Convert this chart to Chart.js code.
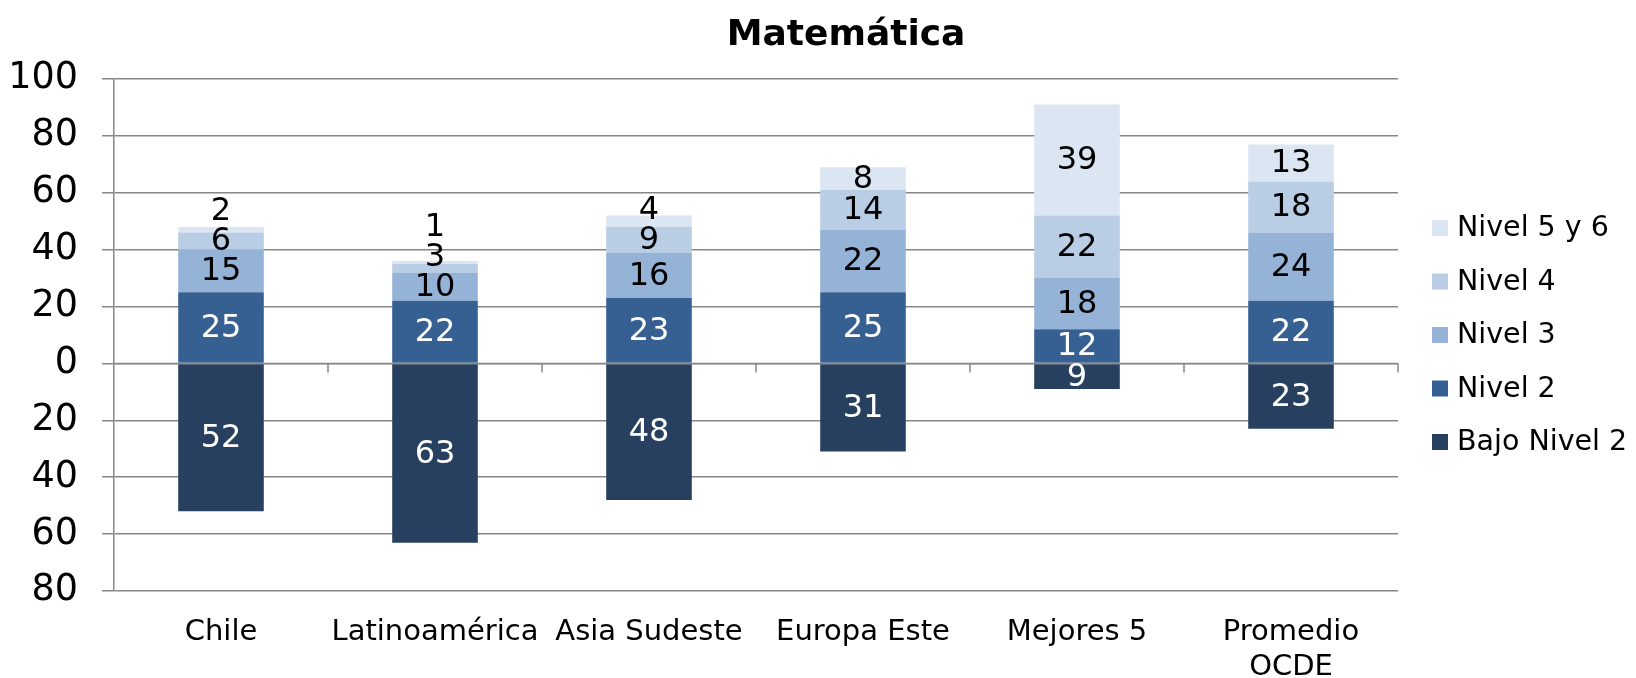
<!DOCTYPE html>
<html>
<head>
<meta charset="utf-8">
<script src="https://cdn.jsdelivr.net/npm/chart.js@4/dist/chart.umd.min.js"></script>
<style>
  html, body { margin: 0; padding: 0; background: #fff; }
  #wrap { width: 1636px; height: 678px; }
</style>
</head>
<body>
<div id="wrap"><canvas id="chart" width="1636" height="678"></canvas></div>
<script>
const CATEGORIES = ["Chile", "Latinoamérica", "Asia Sudeste", "Europa Este", "Mejores 5", ["Promedio", "OCDE"]];
const BAJO_NIVEL_2 = [-52, -63, -48, -31, -9, -23];
const NIVEL_2 = [25, 22, 23, 25, 12, 22];
const NIVEL_3 = [15, 10, 16, 22, 18, 24];
const NIVEL_4 = [6, 3, 9, 14, 22, 18];
const NIVEL_5_Y_6 = [2, 1, 4, 8, 39, 13];
const Y_TICKS = [-80, -60, -40, -20, 0, 20, 40, 60, 80, 100];

const FONT = "'DejaVu Sans', Verdana, sans-serif";
const GRID = "#878787";
const LABEL_GAP = 30;
const LEGEND_ROW = 53.5;

const series = [
  { label: "Bajo Nivel 2", data: BAJO_NIVEL_2, color: "#27405f", ink: "#ffffff" },
  { label: "Nivel 2", data: NIVEL_2, color: "#376092", ink: "#ffffff" },
  { label: "Nivel 3", data: NIVEL_3, color: "#95b3d7", ink: "#000000" },
  { label: "Nivel 4", data: NIVEL_4, color: "#b9cde5", ink: "#000000" },
  { label: "Nivel 5 y 6", data: NIVEL_5_Y_6, color: "#dce6f2", ink: "#000000" },
];

// title, legend, zero line with category ticks, and segment labels
const extras = {
  id: "extras",
  beforeDraw(chart) {
    const ctx = chart.ctx;
    const area = chart.chartArea;
    ctx.save();
    ctx.fillStyle = "#000";
    ctx.font = `bold 36px ${FONT}`;
    ctx.textAlign = "center";
    ctx.textBaseline = "alphabetic";
    ctx.fillText("Matemática", chart.width / 2 + 28, 45);

    // legend, top item is the highest level
    const mid = (area.top + area.bottom) / 2;
    const items = series.slice().reverse();
    ctx.font = `28.5px ${FONT}`;
    ctx.textAlign = "left";
    ctx.textBaseline = "middle";
    items.forEach((s, k) => {
      const y = mid + (k - (items.length - 1) / 2) * LEGEND_ROW;
      ctx.fillStyle = s.color;
      ctx.fillRect(area.right + 34, y - 8, 16, 16);
      ctx.fillStyle = "#000";
      ctx.fillText(s.label, area.right + 59, y + 1);
    });
    ctx.restore();
  },
  afterDatasetsDraw(chart) {
    const ctx = chart.ctx;
    const xs = chart.scales.x;
    const ys = chart.scales.y;
    const area = chart.chartArea;
    const y0 = ys.getPixelForValue(0);

    ctx.save();
    ctx.strokeStyle = GRID;
    ctx.lineWidth = 1.5;
    ctx.beginPath();
    ctx.moveTo(area.left, y0);
    ctx.lineTo(area.right, y0);
    const n = CATEGORIES.length;
    for (let i = 1; i <= n; i++) {
      const x = i < n
        ? (xs.getPixelForTick(i - 1) + xs.getPixelForTick(i)) / 2
        : area.right;
      ctx.moveTo(x, y0);
      ctx.lineTo(x, y0 + 9);
    }
    ctx.stroke();

    ctx.font = `32px ${FONT}`;
    ctx.textAlign = "center";
    ctx.textBaseline = "middle";
    for (let i = 0; i < n; i++) {
      let prevY = Infinity;
      series.forEach((s, d) => {
        const el = chart.getDatasetMeta(d).data[i];
        const { x, y, base } = el.getProps(["x", "y", "base"], true);
        let ly = (y + base) / 2;
        if (d > 0 && ly > prevY - LABEL_GAP) ly = prevY - LABEL_GAP;
        prevY = ly;
        ctx.fillStyle = s.ink;
        ctx.fillText(String(Math.abs(s.data[i])), x, ly + 1);
      });
    }
    ctx.restore();
  },
};

new Chart(document.getElementById("chart"), {
  type: "bar",
  data: {
    labels: CATEGORIES,
    datasets: series.map((s) => ({
      label: s.label,
      data: s.data,
      backgroundColor: s.color,
      borderWidth: 0,
      categoryPercentage: 1,
      barPercentage: 0.4,
    })),
  },
  options: {
    responsive: false,
    animation: false,
    devicePixelRatio: 1,
    layout: { padding: { left: 10, top: 79, right: 238, bottom: 0 } },
    plugins: {
      title: { display: false },
      tooltip: { enabled: false },
      legend: { display: false },
    },
    scales: {
      x: {
        stacked: true,
        grid: { display: false },
        border: { display: false },
        afterFit(scale) {
          scale.height = 87;
        },
        ticks: {
          color: "#000",
          font: { family: FONT, size: 29 },
          padding: 16,
          maxRotation: 0,
          autoSkip: false,
        },
      },
      y: {
        stacked: true,
        min: -80,
        max: 100,
        afterBuildTicks(scale) {
          scale.ticks = Y_TICKS.map((v) => ({ value: v }));
        },
        afterFit(scale) {
          scale.width = 104;
        },
        grid: { color: GRID, lineWidth: 1.5, tickLength: 12, tickColor: GRID },
        border: { display: true, color: GRID, width: 1.5 },
        ticks: {
          color: "#000",
          font: { family: FONT, size: 36.5 },
          padding: 24,
          callback: (v) => String(Math.abs(v)),
        },
      },
    },
  },
  plugins: [extras],
});
</script>
</body>
</html>
